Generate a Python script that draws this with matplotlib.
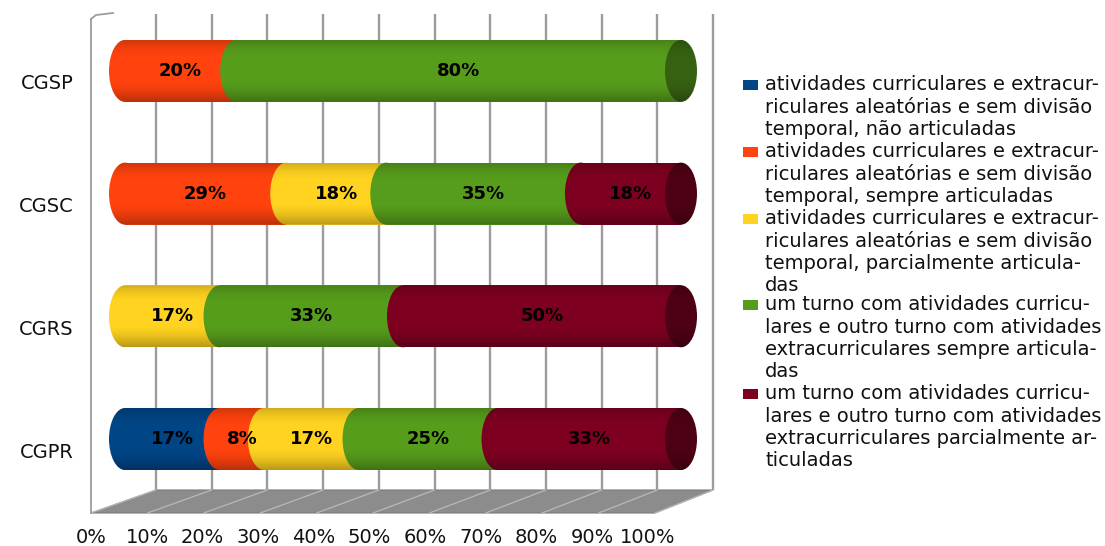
import numpy as np
import matplotlib
matplotlib.use("Agg")
import matplotlib.pyplot as plt
from matplotlib.patches import Ellipse, Rectangle, Polygon, PathPatch
from matplotlib.path import Path
from matplotlib.colors import to_rgb
import matplotlib.transforms as mtransforms

# ---------------- data ----------------
categories = ["CGSP", "CGSC", "CGRS", "CGPR"]

nao_articuladas = [0, 0, 0, 17]
sempre_articuladas = [20, 29, 0, 8]
parcialmente_articuladas = [0, 18, 17, 17]
turno_sempre_articuladas = [80, 35, 33, 25]
turno_parcialmente_articuladas = [0, 18, 50, 33]

series = [nao_articuladas, sempre_articuladas, parcialmente_articuladas,
          turno_sempre_articuladas, turno_parcialmente_articuladas]

series_labels = [
    "atividades curriculares e extracur-\nriculares aleatórias e sem divisão\ntemporal, não articuladas",
    "atividades curriculares e extracur-\nriculares aleatórias e sem divisão\ntemporal, sempre articuladas",
    "atividades curriculares e extracur-\nriculares aleatórias e sem divisão\ntemporal, parcialmente articula-\ndas",
    "um turno com atividades curricu-\nlares e outro turno com atividades\nextracurriculares sempre articula-\ndas",
    "um turno com atividades curricu-\nlares e outro turno com atividades\nextracurriculares parcialmente ar-\nticuladas",
]

colors = ["#004586", "#ff420e", "#ffd320", "#579d1c", "#7e0021"]

xtick_values = [0, 10, 20, 30, 40, 50, 60, 70, 80, 90, 100]
xtick_labels = [f"{v}%" for v in xtick_values]

# ---------------- layout helpers ----------------
W, H = 1105, 546
fig = plt.figure(figsize=(W / 100, H / 100), dpi=100)
fig.patch.set_facecolor("white")


def px_axes(x0, x1, ytop, ybot, **kw):
    return fig.add_axes([x0 / W, 1 - ybot / H, (x1 - x0) / W, (ybot - ytop) / H], **kw)


def darker(c, f=0.62):
    r, g, b = to_rgb(c)
    return (r * f, g * f, b * f)


GRID_C = "#9c9c9c"

# ---------------- back wall (gridlines) ----------------
wall_scale = (713 - 156) / 100.0
axw = px_axes(156 - wall_scale, 713 + wall_scale, 14, 490)
axw.set_zorder(0)
axw.set_xlim(-1, 101)
axw.set_ylim(0, 1)
axw.set_xticks(xtick_values)
axw.tick_params(length=0, labelbottom=False, labelleft=False)
axw.set_yticks([])
axw.grid(axis="x", color=GRID_C, linewidth=1.7)
for s in axw.spines.values():
    s.set_visible(False)
axw.patch.set_visible(False)

# ---------------- floor and side wall (decoration canvas) ----------------
axc = fig.add_axes([0, 0, 1, 1])
axc.set_zorder(1)
axc.set_xlim(0, W)
axc.set_ylim(H, 0)
axc.axis("off")
axc.patch.set_visible(False)
floor = Polygon([(156, 490), (713, 490), (655, 513), (91, 513)], closed=True,
                facecolor="#8c8c8c", edgecolor="#7a7a7a", linewidth=0.8)
axc.add_patch(floor)
for v in xtick_values:
    xb = 156 + wall_scale * v
    xf = 91 + (655 - 91) / 100.0 * v
    axc.plot([xb, xf], [490, 513], color="#b9b9b9", linewidth=0.9)
axc.plot([91, 91], [513, 19], color=GRID_C, linewidth=1.3)
axc.plot([91, 96, 113], [19, 15, 13], color=GRID_C, linewidth=1.3)

# ---------------- bars ----------------
bar_scale = 5.56            # px per percent
x0_px = 125                 # px of 0%
center0_px = 439            # px of lowest bar centre
ystep_px = 122.7            # px between bars
xlo, xhi = -8, 108
ylo, yhi = -0.6, 3.6
axb = px_axes(x0_px + xlo * bar_scale, x0_px + xhi * bar_scale,
              center0_px - yhi * ystep_px, center0_px - ylo * ystep_px)
axb.set_zorder(3)
axb.patch.set_visible(False)
for s in axb.spines.values():
    s.set_visible(False)

bh = 62 / ystep_px           # bar height in data units
rx = 16 / bar_scale          # cap half-width in data units

ypos = [len(categories) - 1 - i for i in range(len(categories))]

z = 2
for i, cat in enumerate(categories):
    y = ypos[i]
    left = 0
    last_color = None
    for k, vals in enumerate(series):
        v = vals[i]
        if v == 0:
            continue
        c = colors[k]
        axb.barh(y, v, left=left, height=bh, color=c, edgecolor="none", zorder=z)
        axb.add_patch(Ellipse((left, y), 2 * rx, bh, facecolor=c, edgecolor="none", zorder=z))
        z += 1
        last_color = c
        left += v
    # end cap
    axb.add_patch(Ellipse((left, y), 2 * rx, bh, facecolor=darker(last_color),
                          edgecolor="none", zorder=z))
    z += 1
    # cylinder shading overlay, clipped to the bar outline
    th = np.linspace(np.pi / 2, 3 * np.pi / 2, 40)
    lv = np.column_stack([rx * np.cos(th), y + bh / 2 * np.sin(th)])
    th2 = np.linspace(-np.pi / 2, np.pi / 2, 40)
    rv = np.column_stack([left + rx * np.cos(th2), y + bh / 2 * np.sin(th2)])
    verts = np.vstack([lv, rv, lv[:1]])
    outline = PathPatch(Path(verts), transform=axb.transData, facecolor="none",
                        edgecolor="none")
    axb.add_patch(outline)
    t = np.linspace(0, 1, 80)
    alpha = np.zeros_like(t)
    top = t < 0.3
    alpha[top] = 0.18 * (1 - t[top] / 0.3) ** 2
    bot = t > 0.65
    alpha[bot] = 0.28 * ((t[bot] - 0.65) / 0.35) ** 1.6
    grad = np.zeros((len(t), 2, 4))
    grad[:, :, 3] = alpha[:, None]
    im = axb.imshow(grad, extent=(-rx, left + rx, y - bh / 2, y + bh / 2),
                    aspect="auto", interpolation="bilinear", origin="upper", zorder=z)
    im.set_clip_path(outline)
    z += 1
    # value labels
    left = 0
    for k, vals in enumerate(series):
        v = vals[i]
        if v == 0:
            continue
        axb.text(left + v / 2, y, f"{v}%", ha="center", va="center",
                 fontsize=13, fontweight="bold", color="black", zorder=100)
        left += v

axb.set_xlim(xlo, xhi)
axb.set_ylim(ylo, yhi)
axb.set_xticks([])
axb.set_yticks(ypos)
axb.set_yticklabels(categories, fontsize=14, color="#111111")
axb.tick_params(axis="y", length=0, pad=5)
offset = mtransforms.ScaledTranslation(0, -11 / 100, fig.dpi_scale_trans)
for lab in axb.get_yticklabels():
    lab.set_transform(lab.get_transform() + offset)

# ---------------- x tick labels (front edge) ----------------
axt = px_axes(91.5, 91.5 + 100 * bar_scale, 512, 514)
axt.set_zorder(3)
axt.patch.set_visible(False)
for s in axt.spines.values():
    s.set_visible(False)
axt.set_xlim(0, 100)
axt.set_xticks(xtick_values)
axt.set_xticklabels(xtick_labels, fontsize=14, color="#111111")
axt.set_yticks([])
axt.tick_params(axis="x", length=0, pad=10)

# ---------------- legend ----------------
first_line_centres = [85, 152, 219, 305, 394]
for k, (lab, yc) in enumerate(zip(series_labels, first_line_centres)):
    fig.patches.append(Rectangle(((743) / W, 1 - (yc + 5) / H), 15 / W, 10 / H,
                                 transform=fig.transFigure, facecolor=colors[k],
                                 edgecolor="none"))
    fig.text(765 / W, 1 - (yc - 9.7) / H, lab, ha="left", va="top",
             fontsize=14, linespacing=1.22, color="#111111")

fig.savefig("out.png", dpi=100, facecolor="white")
